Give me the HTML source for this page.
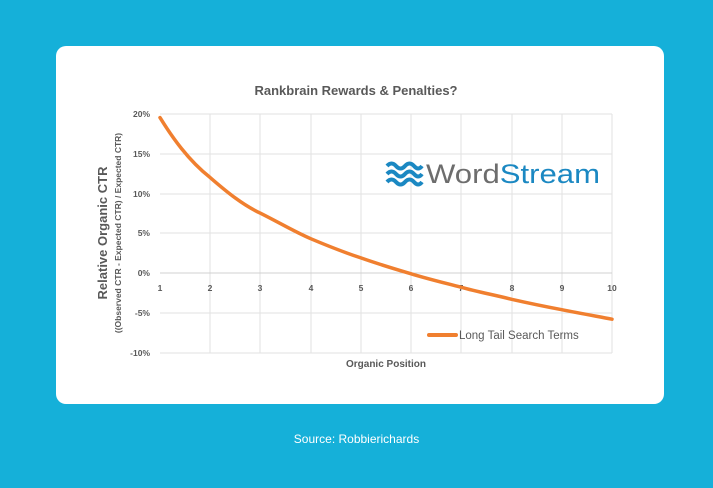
<!DOCTYPE html>
<html><head><style>
html,body{margin:0;padding:0;}
body{width:713px;height:488px;background:#15b0d9;position:relative;overflow:hidden;font-family:"Liberation Sans",sans-serif;}
.card{position:absolute;left:56px;top:46px;width:608px;height:358px;background:#fff;border-radius:10px;}
.src{position:absolute;left:0;width:713px;top:432px;text-align:center;color:#fff;font-size:12px;}
svg{position:absolute;left:0;top:0;}
</style></head><body>
<div class="card"></div>
<svg width="713" height="488" font-family="Liberation Sans, sans-serif">
<text x="356" y="95" text-anchor="middle" font-size="13" font-weight="bold" fill="#595959">Rankbrain Rewards &amp; Penalties?</text>
<g stroke="#e2e2e2" stroke-width="1">
<line x1="160" y1="114" x2="612" y2="114"/><line x1="160" y1="154" x2="612" y2="154"/>
<line x1="160" y1="194" x2="612" y2="194"/><line x1="160" y1="233" x2="612" y2="233"/>
<line x1="160" y1="313" x2="612" y2="313"/><line x1="160" y1="353" x2="612" y2="353"/>
<line x1="210" y1="114" x2="210" y2="353"/><line x1="260" y1="114" x2="260" y2="353"/>
<line x1="311" y1="114" x2="311" y2="353"/><line x1="361" y1="114" x2="361" y2="353"/>
<line x1="411" y1="114" x2="411" y2="353"/><line x1="461" y1="114" x2="461" y2="353"/>
<line x1="512" y1="114" x2="512" y2="353"/><line x1="562" y1="114" x2="562" y2="353"/>
<line x1="612" y1="114" x2="612" y2="353"/>
</g>
<line x1="160" y1="273" x2="612" y2="273" stroke="#d0d0d0"/>
<g font-size="8.5" font-weight="bold" fill="#595959" text-anchor="end">
<text x="150" y="117">20%</text><text x="150" y="157">15%</text><text x="150" y="197">10%</text>
<text x="150" y="236">5%</text><text x="150" y="276">0%</text><text x="150" y="316">-5%</text><text x="150" y="356">-10%</text>
</g>
<g font-size="8.5" font-weight="bold" fill="#595959" text-anchor="middle">
<text x="160" y="291">1</text><text x="210" y="291">2</text><text x="260" y="291">3</text><text x="311" y="291">4</text><text x="361" y="291">5</text>
<text x="411" y="291">6</text><text x="461" y="291">7</text><text x="512" y="291">8</text><text x="562" y="291">9</text><text x="612" y="291">10</text>
</g>
<text transform="translate(107,233) rotate(-90)" text-anchor="middle" font-size="13" font-weight="bold" fill="#595959">Relative Organic CTR</text>
<text transform="translate(121,233) rotate(-90)" text-anchor="middle" font-size="8.5" font-weight="bold" fill="#595959">((Observed CTR - Expected CTR) / Expected CTR)</text>
<text x="386" y="367" text-anchor="middle" font-size="10" font-weight="bold" fill="#595959">Organic Position</text>
<path d="M160,117.6 C172,137 188,160 210,177.4 C228,193 243,205 260.4,213.2 C280,223 295,232 310.7,238.7 C328,246 343,252 360.9,257.9 C378,264 395,269 411.1,273.8 C428,279 445,283 461.3,287.3 C478,292 495,295 511.6,299.3 C528,303 545,306.5 561.8,309.7 C578,313 595,316 612,319.2" fill="none" stroke="#f07f2f" stroke-width="3.5" stroke-linecap="round"/>
<line x1="429" y1="335" x2="456" y2="335" stroke="#f07f2f" stroke-width="4" stroke-linecap="round"/>
<text x="459" y="339" font-size="11.5" fill="#595959">Long Tail Search Terms</text>
<g fill="none" stroke="#1b88c2" stroke-width="4">
<path d="M387,166 q4.5,-5 9,0 t9,0 t9,0 t8,0"/>
<path d="M387,174 q4.5,-5 9,0 t9,0 t9,0 t8,0"/>
<path d="M387,182 q4.5,-5 9,0 t9,0 t9,0 t8,0"/>
</g>
<text x="426" y="183" font-size="27" fill="#6d6d6d" textLength="174" lengthAdjust="spacingAndGlyphs">Word<tspan fill="#1b88c2">Stream</tspan></text>
</svg>
<div class="src">Source: Robbierichards</div>
</body></html>
